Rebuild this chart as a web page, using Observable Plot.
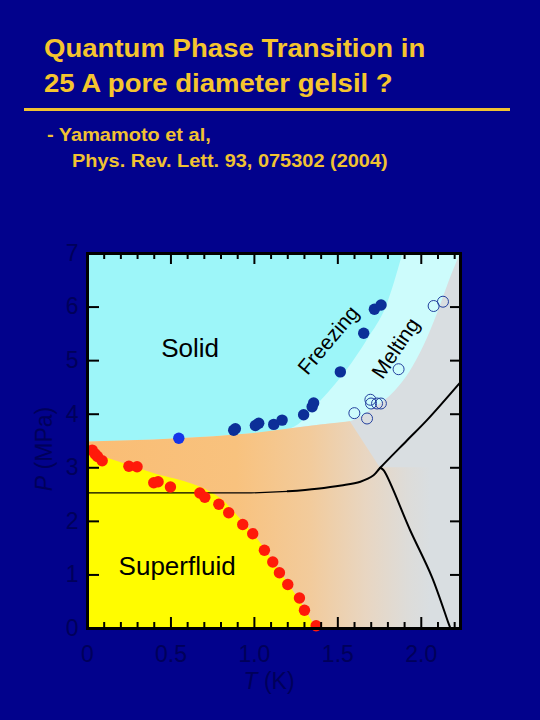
<!DOCTYPE html>
<html><head><meta charset="utf-8">
<script src="https://cdn.jsdelivr.net/npm/d3@7"></script>
<script src="https://cdn.jsdelivr.net/npm/@observablehq/plot@0.6"></script>
<style>
html,body{margin:0;padding:0;background:#02028c;width:540px;height:720px;overflow:hidden;font-family:"Liberation Sans",Arial,sans-serif;}
.t{position:absolute;white-space:nowrap;font-weight:bold;transform-origin:left top;}
#title1,#title2{left:44px;font-size:26px;line-height:35px;color:#f5c52e;transform:scaleX(1.06);}
#title1{top:31px;} #title2{top:66px;}
#rule{position:absolute;left:24px;top:108px;width:486px;height:3px;background:#f0c232;}
#sub1,#sub2{font-size:19px;line-height:26px;color:#f0c232;transform:scaleX(1.05);}
#sub1{left:47px;top:122px;} #sub2{left:72px;top:148px;}
#chart{position:absolute;left:0;top:220px;}
</style></head><body>
<div class="t" id="title1">Quantum Phase Transition in</div>
<div class="t" id="title2">25 A pore diameter gelsil ?</div>
<div id="rule"></div>
<div class="t" id="sub1">- Yamamoto et al,</div>
<div class="t" id="sub2">Phys. Rev. Lett. 93, 075302 (2004)</div>
<div id="chart"></div>
<script>
// ---- tick values and labels ----
const xMajor = [0, 0.5, 1, 1.5, 2];
const xTickLabels = ["0", "0.5", "1.0", "1.5", "2.0"];
const xMinor = [0.1,0.2,0.3,0.4,0.6,0.7,0.8,0.9,1.1,1.2,1.3,1.4,1.6,1.7,1.8,1.9,2.1,2.2];
const yTicks = [0, 1, 2, 3, 4, 5, 6, 7];
const yTickLabels = ["0", "1", "2", "3", "4", "5", "6", "7"];

// ---- superfluid onset (red filled) ----
const sfT = [0.028,0.045,0.06,0.088,0.248,0.297,0.397,0.423,0.497,0.673,0.703,0.787,0.846,0.93,0.99,1.06,1.11,1.15,1.2,1.27,1.30,1.37];
const sfP = [3.33,3.26,3.21,3.13,3.03,3.02,2.72,2.74,2.64,2.53,2.45,2.32,2.16,1.94,1.77,1.46,1.24,1.04,0.82,0.57,0.34,0.05];

// ---- freezing (blue filled) ----
const frT = [0.876,0.886,1.006,1.026,1.116,1.166,1.295,1.346,1.355,1.515,1.655,1.719,1.759];
const frP = [3.70,3.73,3.79,3.83,3.81,3.89,3.99,4.14,4.21,4.79,5.51,5.96,6.04];
const frLoneT = [0.547];
const frLoneP = [3.55];

// ---- melting (open circles) ----
const mlT = [1.599,1.675,1.695,1.699,1.735,1.758,1.864,2.074,2.13];
const mlP = [4.02,3.92,4.27,4.20,4.20,4.20,4.84,6.02,6.10];

// ---- region boundaries ----
const orangeTopT = [0, 0.4, 0.76, 1.0, 1.22, 1.4, 1.575];
const orangeTopP = [3.48, 3.52, 3.58, 3.64, 3.73, 3.80, 3.86];
const orangeEdgeT = [1.754, 2.235];
const orangeEdgeP = [3.0, 3.0];
const freezeT = [1.22, 1.40, 1.55, 1.68, 1.79, 1.89];
const freezeP = [3.73, 4.25, 4.80, 5.40, 6.00, 7.00];
const meltT = [1.575, 1.72, 1.84, 1.93, 2.02, 2.10, 2.17, 2.235];
const meltP = [3.86, 4.12, 4.42, 4.78, 5.30, 5.90, 6.50, 7.00];
const sfBoundT = [0, 0.36, 0.8, 0.9, 0.98, 1.06, 1.13, 1.2, 1.27, 1.33, 1.37];
const sfBoundP = [3.30, 2.93, 2.42, 2.10, 1.82, 1.50, 1.17, 0.85, 0.53, 0.22, 0];

// ---- black lines ----
const flatT = [0, 0.98, 1.2];
const flatP = [2.53, 2.53, 2.56];
const curve1T = [1.2, 1.375, 1.52, 1.635, 1.714, 1.754, 1.914, 2.034, 2.235];
const curve1P = [2.56, 2.61, 2.67, 2.74, 2.86, 3.0, 3.51, 3.89, 4.6];
const curve2T = [1.754, 1.775, 1.934, 2.064, 2.164, 2.175];
const curve2P = [3.0, 2.95, 1.83, 0.96, 0.09, 0];

// ---- region labels ----
const labelText = ["Solid", "Superfluid", "Freezing", "Melting"];
const labelT = [0.615, 0.537, 1.445, 1.848];
const labelP = [5.23, 1.15, 5.38, 5.23];

const pts = (T, P) => T.map((t, i) => ({T: t, P: P[i]}));
const lbl = i => [{T: labelT[i], P: labelP[i], s: labelText[i]}];

const cyanPts = pts(orangeTopT.slice(0, 5).concat(freezeT.slice(1)), orangeTopP.slice(0, 5).concat(freezeP.slice(1)));
const lightPts = pts(orangeTopT.concat(meltT.slice(1)), orangeTopP.concat(meltP.slice(1)));
const orangePts = pts(orangeTopT.concat(orangeEdgeT), orangeTopP.concat(orangeEdgeP));

const FONT = "'Liberation Sans', Arial, sans-serif";
const TICKCOL = "#00005a";
const W = 540, H = 480, ML = 87, MR = 80, MT = 33, MB = 72;
const IW = W - ML - MR, IH = H - MT - MB;

const defs = () => {
  const d = d3.create("svg:defs");
  const g = d.append("linearGradient").attr("id", "orangeFade").attr("x1", 0).attr("x2", 1).attr("y1", 0).attr("y2", 0);
  [[0, "#fabd74"], [0.4, "#f8c27e"], [0.6, "#f2cb9c"], [0.75, "#e8d6c2"], [0.86, "#dddcd9"], [0.92, "#d9dee1"], [1, "#d9dee1"]]
    .forEach(([o, c]) => g.append("stop").attr("offset", o).attr("stop-color", c));
  return d.node();
};

const axisLabels = () => {
  const g = d3.create("svg:g").attr("font-family", FONT).attr("font-size", 23).attr("fill", TICKCOL);
  const t = g.append("text").attr("x", 269).attr("y", 469).attr("text-anchor", "middle");
  t.append("tspan").attr("font-style", "italic").text("T");
  t.append("tspan").text(" (K)");
  const p = g.append("text").attr("transform", "translate(52,229) rotate(-90)").attr("text-anchor", "middle");
  p.append("tspan").attr("font-style", "italic").text("P");
  p.append("tspan").text(" (MPa)");
  return g.node();
};

const chart = Plot.plot({
  width: W, height: H,
  marginLeft: ML, marginRight: MR, marginTop: MT, marginBottom: MB,
  style: {background: "transparent", fontFamily: FONT},
  x: {domain: [0, 2.235]},
  y: {domain: [0, 7]},
  marks: [
    defs,
    Plot.frame({fill: "#d9dee1"}),
    Plot.areaY(lightPts, {x: "T", y1: "P", y2: 7, fill: "#cdfcfc", curve: "monotone-x"}),
    Plot.areaY(cyanPts, {x: "T", y1: "P", y2: 7, fill: "#9df6f9", curve: "monotone-x"}),
    Plot.areaY(orangePts, {x: "T", y1: 0, y2: "P", fill: "url(#orangeFade)", curve: "linear"}),
    Plot.areaY(pts(sfBoundT, sfBoundP), {x: "T", y1: 0, y2: "P", fill: "#fffc00", curve: "monotone-x"}),
    Plot.line(pts(flatT, flatP), {x: "T", y: "P", stroke: "black", strokeWidth: 1.2}),
    Plot.line(pts(curve1T, curve1P), {x: "T", y: "P", stroke: "black", strokeWidth: 2, curve: "catmull-rom"}),
    Plot.line(pts(curve2T, curve2P), {x: "T", y: "P", stroke: "black", strokeWidth: 2, curve: "catmull-rom"}),
    Plot.dot(pts(sfT, sfP), {x: "T", y: "P", r: 5.7, fill: "#ff1a0a"}),
    Plot.dot(pts(frT, frP), {x: "T", y: "P", r: 5.7, fill: "#0c2f98"}),
    Plot.dot(pts(frLoneT, frLoneP), {x: "T", y: "P", r: 5.7, fill: "#1535e8"}),
    Plot.dot(pts(mlT, mlP), {x: "T", y: "P", r: 5.5, fill: "none", stroke: "#23409e", strokeWidth: 1}),
    Plot.text(lbl(0), {x: "T", y: "P", text: "s", fontSize: 26, fill: "black"}),
    Plot.text(lbl(1), {x: "T", y: "P", text: "s", fontSize: 26, fill: "black"}),
    Plot.text(lbl(2), {x: "T", y: "P", text: "s", fontSize: 21, fill: "black", rotate: -50}),
    Plot.text(lbl(3), {x: "T", y: "P", text: "s", fontSize: 21, fill: "black", rotate: -56}),
    // inward ticks
    Plot.tickX(xMajor, {x: d => d, insetTop: IH - 11, stroke: "black", strokeWidth: 2}),
    Plot.tickX(xMinor, {x: d => d, insetTop: IH - 6, stroke: "black", strokeWidth: 2}),
    Plot.tickX(xMajor, {x: d => d, insetBottom: IH - 11, stroke: "black", strokeWidth: 2}),
    Plot.tickX(xMinor, {x: d => d, insetBottom: IH - 6, stroke: "black", strokeWidth: 2}),
    Plot.tickY(yTicks, {y: d => d, insetRight: IW - 12, stroke: "black", strokeWidth: 2}),
    Plot.tickY(yTicks, {y: d => d, insetLeft: IW - 10, stroke: "black", strokeWidth: 2}),
    Plot.frame({stroke: "black", strokeWidth: 3}),
    Plot.axisX(xMajor, {tickSize: 0, tickPadding: 17, fontSize: 23, fill: TICKCOL, label: null,
      tickFormat: d => xTickLabels[xMajor.indexOf(d)]}),
    Plot.axisY(yTicks, {tickSize: 0, tickPadding: 9, fontSize: 23, fill: TICKCOL, label: null,
      tickFormat: d => yTickLabels[yTicks.indexOf(d)]}),
    axisLabels
  ]
});
document.getElementById("chart").appendChild(chart);
</script>
</body></html>
